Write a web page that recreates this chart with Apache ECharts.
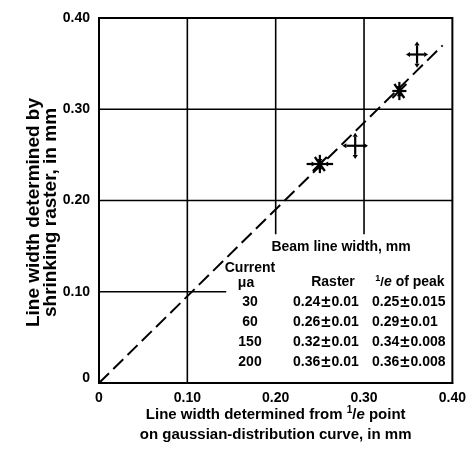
<!DOCTYPE html>
<html><head><meta charset="utf-8">
<script src="https://cdn.jsdelivr.net/npm/echarts@6/dist/echarts.min.js"></script>
<style>html,body{margin:0;padding:0;background:#fff}#c{width:469px;height:452px}</style>
</head><body><div id="c"></div>
<script>
// ---- data ----
const currents = ['30', '60', '150', '200'];
const rasterVal = [0.24, 0.26, 0.32, 0.36];
const rasterErr = [0.01, 0.01, 0.01, 0.01];
const peakVal = [0.25, 0.29, 0.34, 0.36];
const peakErr = [0.015, 0.01, 0.008, 0.008];
const markerKind = [0, 1, 0, 1]; // 0 = star with inward arrows, 1 = plus with outward arrows
const axisTicks = [0, 0.1, 0.2, 0.3, 0.4];
const tickLabels = ['0', '0.10', '0.20', '0.30', '0.40'];
const refLine = [[0, 0], [0.389, 0.37]];
const gridV = [[0.1, 0, 0.4], [0.2, 0.163, 0.4], [0.3, 0.163, 0.4]];
const gridH = [[0.1, 0, 0.144], [0.2, 0, 0.4], [0.3, 0, 0.4]];
const tableTitle = 'Beam line width, mm';
const colCurrent = ['Current', 'μa'];
const colRaster = 'Raster';

const FF = '"Liberation Sans", Arial, sans-serif';
const chart = echarts.init(document.getElementById('c'), null, {renderer: 'canvas'});

const gridData = [];
gridV.forEach(g => { gridData.push([g[0], g[1]], [g[0], g[2]], '-'); });
gridH.forEach(g => { gridData.push([g[1], g[0]], [g[2], g[0]], '-'); });

const markerData = peakVal.map((v, i) => [v, rasterVal[i], peakErr[i], rasterErr[i], markerKind[i]]);

function tri(x, y, dirx, diry, s) {
  const px = -diry, py = dirx;
  return [[x + dirx * s, y + diry * s], [x + px * s * 0.65, y + py * s * 0.65], [x - px * s * 0.65, y - py * s * 0.65]];
}

function renderMarker(params, api) {
  const c = api.coord([api.value(0), api.value(1)]);
  const sz = api.size([api.value(2), api.value(3)]);
  const dx = sz[0], dy = sz[1];
  const kind = api.value(4);
  const st = {stroke: '#000', lineWidth: 2.2, fill: null};
  const ch = [
    {type: 'line', shape: {x1: c[0] - dx, y1: c[1], x2: c[0] + dx, y2: c[1]}, style: st},
    {type: 'line', shape: {x1: c[0], y1: c[1] - dy, x2: c[0], y2: c[1] + dy}, style: st}
  ];
  const a = 4;
  if (kind === 0) {
    ch.push({type: 'line', shape: {x1: c[0] - 7, y1: c[1] + 7, x2: c[0] + 7, y2: c[1] - 7}, style: st});
    ch.push({type: 'line', shape: {x1: c[0] - 5, y1: c[1] - 7, x2: c[0] + 5, y2: c[1] + 7}, style: st});
    ch.push({type: 'polygon', shape: {points: tri(c[0] - dx + a + 1, c[1], 1, 0, a)}, style: {fill: '#000'}});
    ch.push({type: 'polygon', shape: {points: tri(c[0] + dx - a - 1, c[1], -1, 0, a)}, style: {fill: '#000'}});
    ch.push({type: 'polygon', shape: {points: tri(c[0], c[1] - dy + a, 0, 1, a)}, style: {fill: '#000'}});
    ch.push({type: 'polygon', shape: {points: tri(c[0], c[1] + dy - a, 0, -1, a)}, style: {fill: '#000'}});
  } else {
    ch.push({type: 'polygon', shape: {points: tri(c[0] - dx, c[1], -1, 0, a)}, style: {fill: '#000'}});
    ch.push({type: 'polygon', shape: {points: tri(c[0] + dx, c[1], 1, 0, a)}, style: {fill: '#000'}});
    ch.push({type: 'polygon', shape: {points: tri(c[0], c[1] - dy, 0, -1, a)}, style: {fill: '#000'}});
    ch.push({type: 'polygon', shape: {points: tri(c[0], c[1] + dy, 0, 1, a)}, style: {fill: '#000'}});
  }
  return {type: 'group', children: ch};
}

const lbl = v => {
  const i = axisTicks.findIndex(t => Math.abs(t - v) < 1e-9);
  return i >= 0 ? tickLabels[i] : '';
};

const B = (size, extra) => Object.assign({fontFamily: FF, fontWeight: 'bold', fontSize: size, fill: '#000'}, extra || {});

// table graphics
const tbl = [];
const tText = (txt, x, y, align, size) => ({
  type: 'text', x: x, y: y,
  style: Object.assign(B(size || 14), {text: txt, align: align || 'center', verticalAlign: 'middle'})
});
tbl.push(tText(tableTitle, 341, 247, 'center', 14));
tbl.push(tText(colCurrent[0], 250, 268, 'center', 14));
tbl.push(tText(colCurrent[1], 246, 283, 'center', 14));
tbl.push(tText(colRaster, 333, 282, 'center', 14));
tbl.push({type: 'text', x: 410, y: 282, style: {
  text: '{s|1}{n|/}{i|e}{r| of peak}', align: 'center', verticalAlign: 'middle', fill: '#000',
  rich: {
    s: B(9, {verticalAlign: 'top', padding: [0, 0, 6, 0]}),
    n: B(13),
    i: B(14, {fontStyle: 'italic'}),
    r: B(14)
  }
}});
const rowY = [302, 322, 342, 362];
const pmRich = {v: B(14), pm: B(17, {padding: [0, 1, 0, 1]})};
currents.forEach((c, i) => {
  tbl.push(tText(c, 250, rowY[i], 'center', 14));
  tbl.push({type: 'text', x: 293, y: rowY[i], style: {
    text: '{v|' + rasterVal[i].toFixed(2) + '}{pm|±}{v|' + rasterErr[i] + '}',
    align: 'left', verticalAlign: 'middle', fill: '#000', rich: pmRich}});
  tbl.push({type: 'text', x: 372, y: rowY[i], style: {
    text: '{v|' + peakVal[i].toFixed(2) + '}{pm|±}{v|' + peakErr[i] + '}',
    align: 'left', verticalAlign: 'middle', fill: '#000', rich: pmRich}});
});

const nameRich = {
  a: {fontFamily: FF, fontWeight: 'bold', fontSize: 15, lineHeight: 20, color: '#000'},
  s: {fontFamily: FF, fontWeight: 'bold', fontSize: 10, lineHeight: 20, verticalAlign: 'top', color: '#000'},
  i: {fontFamily: FF, fontWeight: 'bold', fontStyle: 'italic', fontSize: 15, lineHeight: 20, color: '#000'}
};

chart.setOption({
  animation: false,
  backgroundColor: '#fff',
  grid: {left: 99, right: 14, top: 18, bottom: 69, show: true, borderColor: '#000', borderWidth: 2, backgroundColor: 'transparent'},
  xAxis: {
    type: 'value', min: 0, max: 0.4, interval: 0.1,
    axisLine: {show: true, lineStyle: {color: '#000', width: 2}},
    axisTick: {show: false}, splitLine: {show: false},
    axisLabel: {formatter: lbl, color: '#000', fontFamily: FF, fontWeight: 'bold', fontSize: 14, margin: 8},
    name: '{a|Line width determined from }{s|1}{a|/}{i|e}{a| point}\n{a|on gaussian-distribution curve, in mm}',
    nameLocation: 'middle', nameGap: 22, nameMoveOverlap: false,
    nameTextStyle: {color: '#000', fontFamily: FF, fontWeight: 'bold', fontSize: 15, lineHeight: 20, rich: nameRich}
  },
  yAxis: {
    type: 'value', min: 0, max: 0.4, interval: 0.1,
    axisLine: {show: true, lineStyle: {color: '#000', width: 2}},
    axisTick: {show: false}, splitLine: {show: false},
    axisLabel: {
      formatter: v => (Math.abs(v) < 1e-9 ? '{z|0}' : lbl(v)),
      color: '#000', fontFamily: FF, fontWeight: 'bold', fontSize: 14, margin: 9,
      rich: {z: {fontFamily: FF, fontWeight: 'bold', fontSize: 14, color: '#000', padding: [0, 0, 10, 0]}}
    },
    name: 'Line width determined by\nshrinking raster, in mm',
    nameLocation: 'middle', nameRotate: 90, nameGap: 40, nameMoveOverlap: false,
    nameTextStyle: {color: '#000', fontFamily: FF, fontWeight: 'bold', fontSize: 19, lineHeight: 17, padding: [0, 24, 0, 0]}
  },
  graphic: tbl,
  series: [
    {type: 'line', data: gridData, symbol: 'none', connectNulls: false, silent: true,
      lineStyle: {color: '#000', width: 1.6}, z: 1},
    {type: 'line', data: refLine, symbol: 'none', silent: true,
      lineStyle: {color: '#000', width: 2, type: [14, 6]}, z: 2},
    {type: 'custom', data: markerData, renderItem: renderMarker, z: 3, silent: true}
  ]
});
</script>
</body></html>
